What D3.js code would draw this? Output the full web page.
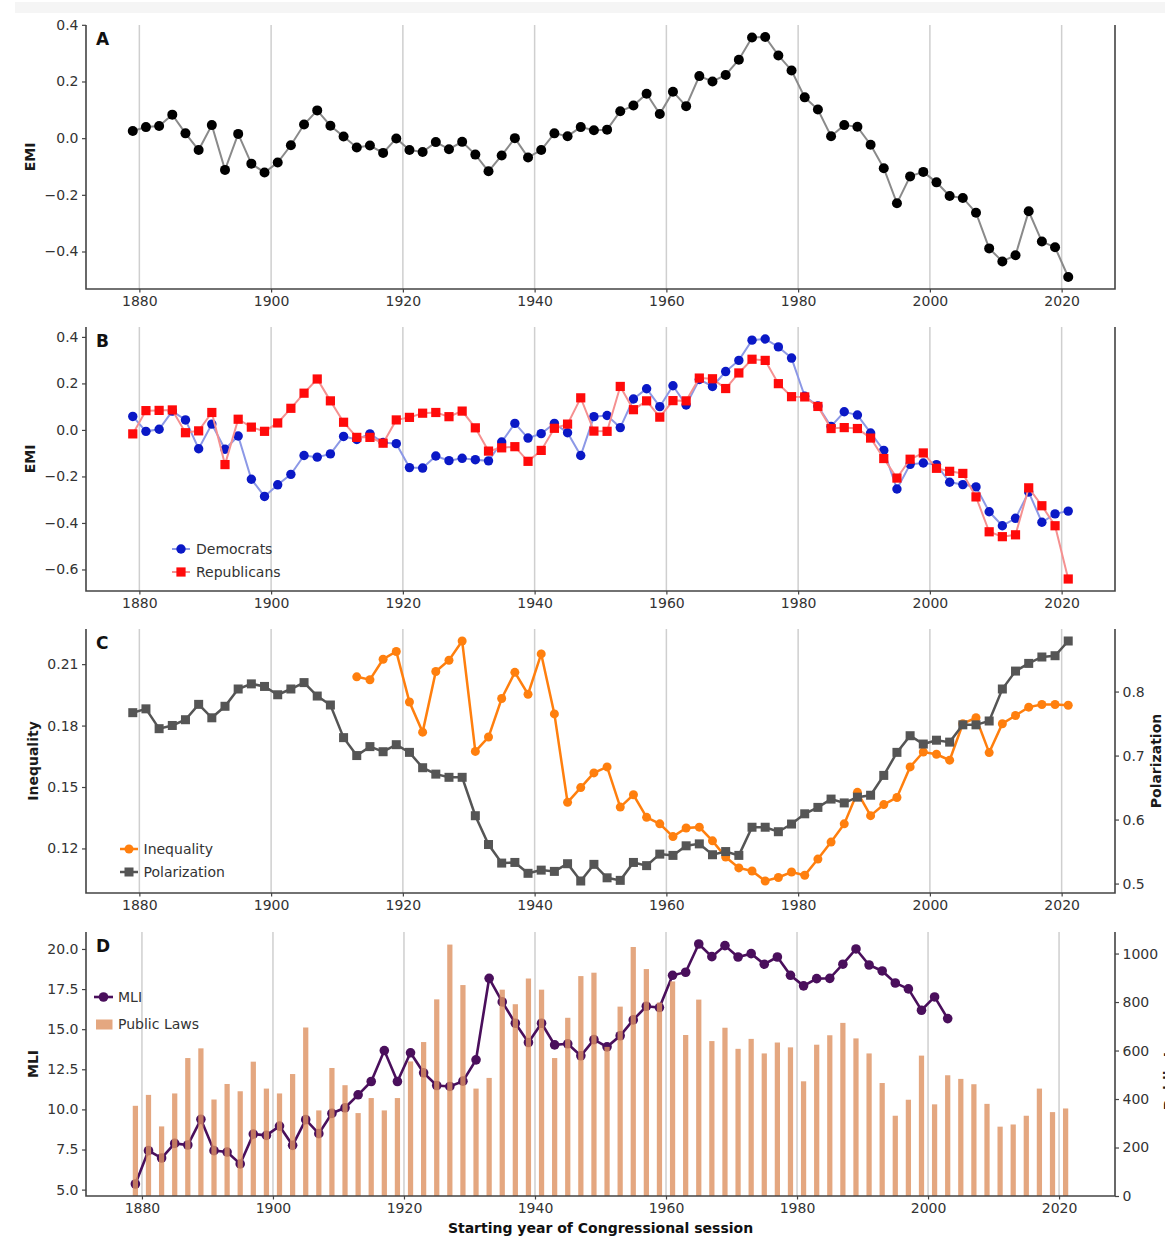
<!DOCTYPE html>
<html>
<head>
<meta charset="utf-8">
<script src="https://cdn.jsdelivr.net/npm/d3@7"></script>
<style>
  html, body { margin: 0; padding: 0; background: #ffffff; }
  svg { display: block; font-family: "DejaVu Sans", sans-serif; }
</style>
</head>
<body>
<svg id="chart" width="1165" height="1236"></svg>
<script>
// ---- Congressional session starting years ----
const sessionYears = [1879, 1881, 1883, 1885, 1887, 1889, 1891, 1893, 1895, 1897, 1899, 1901,
  1903, 1905, 1907, 1909, 1911, 1913, 1915, 1917, 1919, 1921, 1923, 1925, 1927, 1929, 1931,
  1933, 1935, 1937, 1939, 1941, 1943, 1945, 1947, 1949, 1951, 1953, 1955, 1957, 1959, 1961,
  1963, 1965, 1967, 1969, 1971, 1973, 1975, 1977, 1979, 1981, 1983, 1985, 1987, 1989, 1991,
  1993, 1995, 1997, 1999, 2001, 2003, 2005, 2007, 2009, 2011, 2013, 2015, 2017, 2019, 2021];

// ---- Panel A: EMI, whole Congress ----
const emiAll = [0.025, 0.039, 0.043, 0.083, 0.017, -0.042, 0.046, -0.112, 0.015, -0.090, -0.121, -0.086,
  -0.025, 0.048, 0.098, 0.044, 0.006, -0.033, -0.026, -0.052, -0.001, -0.042, -0.049, -0.014, -0.039, -0.013, -0.058,
  -0.117, -0.061, 0.000, -0.068, -0.042, 0.017, 0.007, 0.039, 0.028, 0.030, 0.095, 0.115, 0.157, 0.085, 0.164,
  0.113, 0.219, 0.200, 0.223, 0.277, 0.355, 0.357, 0.292, 0.239, 0.144, 0.101, 0.007, 0.046, 0.040, -0.023,
  -0.106, -0.230, -0.135, -0.119, -0.156, -0.204, -0.211, -0.263, -0.389, -0.435, -0.413, -0.258, -0.365, -0.385, -0.490];

// ---- Panel B: EMI by party ----
const emiDem = [0.058, -0.006, 0.003, 0.081, 0.043, -0.081, 0.025, -0.083, -0.026, -0.212, -0.286, -0.236,
  -0.191, -0.110, -0.117, -0.103, -0.028, -0.041, -0.017, -0.054, -0.059, -0.162, -0.164, -0.112, -0.132, -0.122, -0.128,
  -0.133, -0.052, 0.028, -0.035, -0.016, 0.028, -0.012, -0.110, 0.057, 0.062, 0.010, 0.133, 0.177, 0.100, 0.190,
  0.107, 0.217, 0.187, 0.251, 0.299, 0.386, 0.391, 0.357, 0.309, 0.145, 0.103, 0.015, 0.078, 0.064, -0.013,
  -0.088, -0.254, -0.148, -0.142, -0.149, -0.225, -0.235, -0.245, -0.352, -0.412, -0.380, -0.267, -0.397, -0.361, -0.349];
const emiRep = [-0.017, 0.083, 0.084, 0.086, -0.012, -0.004, 0.075, -0.149, 0.046, 0.012, -0.006, 0.030,
  0.093, 0.158, 0.219, 0.125, 0.033, -0.032, -0.032, -0.057, 0.043, 0.054, 0.072, 0.075, 0.057, 0.081, 0.009,
  -0.091, -0.077, -0.072, -0.135, -0.088, 0.007, 0.025, 0.138, -0.005, -0.006, 0.187, 0.087, 0.125, 0.055, 0.126,
  0.125, 0.223, 0.220, 0.178, 0.245, 0.304, 0.299, 0.199, 0.143, 0.142, 0.101, 0.006, 0.010, 0.006, -0.035,
  -0.123, -0.207, -0.126, -0.099, -0.165, -0.178, -0.187, -0.288, -0.438, -0.459, -0.451, -0.249, -0.326, -0.412, -0.641];

// ---- Panel C: income inequality (from 1913) and polarization ----
const inequalityYears = sessionYears.slice(17);
const inequality = [0.2038, 0.2024, 0.2124, 0.2162, 0.1915, 0.1768, 0.2064, 0.2119, 0.2213, 0.1674, 0.1744,
  0.1932, 0.2060, 0.1953, 0.2150, 0.1857, 0.1425, 0.1497, 0.1569, 0.1598, 0.1402, 0.1462, 0.1352, 0.1320,
  0.1258, 0.1300, 0.1304, 0.1237, 0.1158, 0.1105, 0.1090, 0.1041, 0.1058, 0.1085, 0.1069, 0.1148, 0.1231,
  0.1320, 0.1474, 0.1360, 0.1414, 0.1449, 0.1598, 0.1671, 0.1660, 0.1631, 0.1809, 0.1838, 0.1668, 0.1809,
  0.1849, 0.1890, 0.1903, 0.1903, 0.1899];
const polarization = [0.767, 0.773, 0.742, 0.747, 0.756, 0.780, 0.759, 0.777, 0.804, 0.812, 0.808, 0.795,
  0.804, 0.814, 0.793, 0.779, 0.728, 0.700, 0.714, 0.706, 0.717, 0.705, 0.681, 0.671, 0.666, 0.666, 0.606,
  0.561, 0.532, 0.533, 0.516, 0.521, 0.519, 0.531, 0.504, 0.530, 0.509, 0.505, 0.533, 0.528, 0.546, 0.544,
  0.559, 0.562, 0.545, 0.550, 0.544, 0.588, 0.588, 0.581, 0.593, 0.609, 0.619, 0.632, 0.626, 0.635, 0.638,
  0.669, 0.705, 0.731, 0.718, 0.724, 0.721, 0.748, 0.748, 0.754, 0.804, 0.832, 0.844, 0.854, 0.856, 0.879];

// ---- Panel D: MLI (through 2003) and number of public laws ----
const mliYears = sessionYears.slice(0, 63);
const mli = [5.35, 7.43, 6.97, 7.88, 7.78, 9.38, 7.43, 7.34, 6.60, 8.46, 8.38, 8.96,
  7.76, 9.36, 8.49, 9.75, 10.10, 10.91, 11.74, 13.67, 11.74, 13.53, 12.28, 11.49, 11.43, 11.76, 13.09,
  18.17, 16.70, 15.37, 14.17, 15.37, 14.02, 14.09, 13.34, 14.35, 13.90, 14.59, 15.58, 16.43, 16.35, 18.36,
  18.55, 20.31, 19.52, 20.21, 19.50, 19.71, 19.05, 19.50, 18.36, 17.70, 18.15, 18.17, 19.05, 20.00, 19.00,
  18.63, 17.88, 17.51, 16.18, 17.01, 15.66];
const publicLaws = [372, 417, 287, 423, 569, 609, 398, 462, 432, 554, 443, 423,
  503, 695, 353, 528, 457, 342, 404, 353, 404, 555, 635, 811, 1037, 870, 443,
  487, 851, 791, 897, 851, 569, 735, 907, 921, 615, 781, 1027, 936, 798, 885,
  664, 810, 639, 694, 607, 648, 588, 633, 613, 473, 624, 663, 714, 650, 588,
  466, 331, 397, 579, 378, 498, 483, 461, 380, 286, 295, 331, 443, 346, 361];

// ---- Tick values ----
const xTicks = [1880, 1900, 1920, 1940, 1960, 1980, 2000, 2020];
const emiTicksA = [-0.4, -0.2, 0.0, 0.2, 0.4];
const emiTicksB = [-0.6, -0.4, -0.2, 0.0, 0.2, 0.4];
const inequalityTicks = [0.12, 0.15, 0.18, 0.21];
const polarizationTicks = [0.5, 0.6, 0.7, 0.8];
const mliTicks = [5.0, 7.5, 10.0, 12.5, 15.0, 17.5, 20.0];
const lawTicks = [0, 200, 400, 600, 800, 1000];

// ---- Layout ----
const W = 1165, H = 1236;
const L = 86, R = 1115, PH = 264;
const tops = { A: 25, B: 327, C: 629, D: 932 };
const FONT = "'DejaVu Sans', sans-serif";
const TICK_COLOR = "#333333";
const SPINE = "#444444";

const svg = d3.select("#chart");
svg.append("rect").attr("x", 15).attr("y", 2).attr("width", W - 15).attr("height", 11).attr("fill", "#f5f5f5");

// 5% padding on both ends, like matplotlib autoscaling
function pad(ext, f = 0.05) {
  const r = ext[1] - ext[0];
  return [ext[0] - r * f, ext[1] + r * f];
}

const barWidth = 0.8;
const xLine = d3.scaleLinear().domain(pad(d3.extent(sessionYears))).range([L, R]);
const xBars = d3.scaleLinear()
  .domain(pad([d3.min(sessionYears) - barWidth / 2, d3.max(sessionYears) + barWidth / 2]))
  .range([L, R]);

const yA = d3.scaleLinear().domain(pad(d3.extent(emiAll))).range([tops.A + PH, tops.A]);
const yB = d3.scaleLinear().domain(pad(d3.extent(emiDem.concat(emiRep)))).range([tops.B + PH, tops.B]);
const yIneq = d3.scaleLinear().domain(pad(d3.extent(inequality))).range([tops.C + PH, tops.C]);
const yPol = d3.scaleLinear().domain(pad(d3.extent(polarization))).range([tops.C + PH, tops.C]);
const yMli = d3.scaleLinear().domain(pad(d3.extent(mli))).range([tops.D + PH, tops.D]);
const yLaws = d3.scaleLinear().domain([0, d3.max(publicLaws) * 1.05]).range([tops.D + PH, tops.D]);

const fmt1 = d3.format(".1f");
const fmt2 = d3.format(".2f");

function styleAxis(sel) {
  sel.attr("font-size", 14).attr("font-family", FONT);
  sel.select(".domain").remove();
  sel.selectAll(".tick line").attr("stroke", SPINE).attr("stroke-width", 1.2);
  sel.selectAll(".tick text").attr("fill", TICK_COLOR);
}

// Grid, axes and spines for one panel; returns a layer for the data marks
function panel(top, x, y, yTicks, yFmt, letter, rightSpineColor) {
  const g = svg.append("g");
  g.append("g").selectAll("line").data(xTicks).join("line")
    .attr("x1", d => x(d)).attr("x2", d => x(d))
    .attr("y1", top).attr("y2", top + PH)
    .attr("stroke", "#cfcfcf").attr("stroke-width", 1.5);
  const data = g.append("g");
  const axes = g.append("g");
  axes.append("g").attr("transform", `translate(0,${top + PH})`)
    .call(d3.axisBottom(x).tickValues(xTicks).tickFormat(d3.format("d")).tickSize(3.5).tickPadding(3.5))
    .call(styleAxis);
  axes.append("g").attr("transform", `translate(${L},0)`)
    .call(d3.axisLeft(y).tickValues(yTicks).tickFormat(yFmt).tickSize(4).tickPadding(3.5))
    .call(styleAxis);
  axes.append("path")
    .attr("d", `M${L},${top}V${top + PH}H${R}V${top}`)
    .attr("fill", "none").attr("stroke", SPINE).attr("stroke-width", 1.6);
  axes.append("text").attr("x", 96).attr("y", top + 20)
    .attr("font-size", 17).attr("font-weight", "bold").attr("font-family", FONT)
    .attr("fill", "#111").text(letter);
  return { data, axes };
}

function yLabel(text, x, cy) {
  svg.append("text")
    .attr("transform", `translate(${x},${cy}) rotate(-90)`)
    .attr("text-anchor", "middle")
    .attr("font-size", 14).attr("font-weight", "bold").attr("font-family", FONT)
    .attr("fill", "#1a1a1a").text(text);
}

function legendText(g, x, y, text) {
  g.append("text").attr("x", x).attr("y", y).attr("dy", "0.35em")
    .attr("font-size", 14).attr("font-family", FONT).attr("fill", "#333").text(text);
}

// ================= Panel A =================
{
  const p = panel(tops.A, xLine, yA, emiTicksA, fmt1, "A");
  const pts = sessionYears.map((yr, i) => ({ yr, v: emiAll[i] }));
  p.data.append("path")
    .attr("d", d3.line().x(d => xLine(d.yr)).y(d => yA(d.v))(pts))
    .attr("fill", "none").attr("stroke", "#8a8a8a").attr("stroke-width", 2);
  p.data.selectAll("circle").data(pts).join("circle")
    .attr("cx", d => xLine(d.yr)).attr("cy", d => yA(d.v)).attr("r", 5)
    .attr("fill", "#000");
  yLabel("EMI", 35, tops.A + PH / 2);
}

// ================= Panel B =================
const DEM_FILL = "#0a18c6", DEM_LINE = "#8c98e6";
const REP_FILL = "#ff0a0a", REP_LINE = "#f59090";
{
  const p = panel(tops.B, xLine, yB, emiTicksB, fmt1, "B");
  const dem = sessionYears.map((yr, i) => ({ yr, v: emiDem[i] }));
  const rep = sessionYears.map((yr, i) => ({ yr, v: emiRep[i] }));
  const line = d3.line().x(d => xLine(d.yr)).y(d => yB(d.v));
  p.data.append("path").attr("d", line(dem))
    .attr("fill", "none").attr("stroke", DEM_LINE).attr("stroke-width", 2);
  p.data.append("g").selectAll("circle").data(dem).join("circle")
    .attr("cx", d => xLine(d.yr)).attr("cy", d => yB(d.v)).attr("r", 4.7).attr("fill", DEM_FILL);
  p.data.append("path").attr("d", line(rep))
    .attr("fill", "none").attr("stroke", REP_LINE).attr("stroke-width", 2);
  const s = 9.2;
  p.data.append("g").selectAll("rect").data(rep).join("rect")
    .attr("x", d => xLine(d.yr) - s / 2).attr("y", d => yB(d.v) - s / 2)
    .attr("width", s).attr("height", s).attr("fill", REP_FILL);

  const lg = p.axes.append("g");
  lg.append("line").attr("x1", 172).attr("x2", 190).attr("y1", 549).attr("y2", 549)
    .attr("stroke", DEM_LINE).attr("stroke-width", 2);
  lg.append("circle").attr("cx", 181).attr("cy", 549).attr("r", 4.7).attr("fill", DEM_FILL);
  legendText(lg, 196, 549, "Democrats");
  lg.append("line").attr("x1", 172).attr("x2", 190).attr("y1", 572).attr("y2", 572)
    .attr("stroke", REP_LINE).attr("stroke-width", 2);
  lg.append("rect").attr("x", 181 - s / 2).attr("y", 572 - s / 2).attr("width", s).attr("height", s).attr("fill", REP_FILL);
  legendText(lg, 196, 572, "Republicans");
  yLabel("EMI", 35, tops.B + PH / 2);
}

// ================= Panel C =================
const INEQ = "#ff7f0e", POL = "#555555";
{
  const p = panel(tops.C, xLine, yIneq, inequalityTicks, fmt2, "C");
  const ineq = inequalityYears.map((yr, i) => ({ yr, v: inequality[i] }));
  const pol = sessionYears.map((yr, i) => ({ yr, v: polarization[i] }));
  p.data.append("path")
    .attr("d", d3.line().x(d => xLine(d.yr)).y(d => yIneq(d.v))(ineq))
    .attr("fill", "none").attr("stroke", INEQ).attr("stroke-width", 2.5);
  p.data.append("g").selectAll("circle").data(ineq).join("circle")
    .attr("cx", d => xLine(d.yr)).attr("cy", d => yIneq(d.v)).attr("r", 4.5).attr("fill", INEQ);
  p.data.append("path")
    .attr("d", d3.line().x(d => xLine(d.yr)).y(d => yPol(d.v))(pol))
    .attr("fill", "none").attr("stroke", POL).attr("stroke-width", 2.5);
  const s = 9;
  p.data.append("g").selectAll("rect").data(pol).join("rect")
    .attr("x", d => xLine(d.yr) - s / 2).attr("y", d => yPol(d.v) - s / 2)
    .attr("width", s).attr("height", s).attr("fill", POL);

  p.axes.append("g").attr("transform", `translate(${R},0)`)
    .call(d3.axisRight(yPol).tickValues(polarizationTicks).tickFormat(fmt1).tickSize(4).tickPadding(3.5))
    .call(styleAxis);

  const lg = p.axes.append("g");
  lg.append("line").attr("x1", 120).attr("x2", 138).attr("y1", 849).attr("y2", 849)
    .attr("stroke", INEQ).attr("stroke-width", 2.5);
  lg.append("circle").attr("cx", 129).attr("cy", 849).attr("r", 4.5).attr("fill", INEQ);
  legendText(lg, 143.5, 849, "Inequality");
  lg.append("line").attr("x1", 120).attr("x2", 138).attr("y1", 872).attr("y2", 872)
    .attr("stroke", POL).attr("stroke-width", 2.5);
  lg.append("rect").attr("x", 129 - s / 2).attr("y", 872 - s / 2).attr("width", s).attr("height", s).attr("fill", POL);
  legendText(lg, 143.5, 872, "Polarization");

  yLabel("Inequality", 38, tops.C + PH / 2);
  yLabel("Polarization", 1161, tops.C + PH / 2);
}

// ================= Panel D =================
const MLI_COLOR = "#4a0f5c", BAR_COLOR = "#dd9160";
{
  const p = panel(tops.D, xBars, yMli, mliTicks, fmt1, "D");
  const m = mliYears.map((yr, i) => ({ yr, v: mli[i] }));
  const laws = sessionYears.map((yr, i) => ({ yr, v: publicLaws[i] }));
  p.data.append("path")
    .attr("d", d3.line().x(d => xBars(d.yr)).y(d => yMli(d.v))(m))
    .attr("fill", "none").attr("stroke", MLI_COLOR).attr("stroke-width", 2.6);
  p.data.append("g").selectAll("circle").data(m).join("circle")
    .attr("cx", d => xBars(d.yr)).attr("cy", d => yMli(d.v)).attr("r", 4.8).attr("fill", MLI_COLOR);
  const bw = xBars(barWidth) - xBars(0);
  p.data.append("g").selectAll("rect").data(laws).join("rect")
    .attr("x", d => xBars(d.yr - barWidth / 2)).attr("width", bw)
    .attr("y", d => yLaws(d.v)).attr("height", d => yLaws(0) - yLaws(d.v))
    .attr("fill", BAR_COLOR).attr("fill-opacity", 0.8);

  p.axes.append("g").attr("transform", `translate(${R},0)`)
    .call(d3.axisRight(yLaws).tickValues(lawTicks).tickFormat(d3.format("d")).tickSize(4).tickPadding(3.5))
    .call(styleAxis);

  const lg = p.axes.append("g");
  lg.append("line").attr("x1", 94).attr("x2", 113).attr("y1", 997).attr("y2", 997)
    .attr("stroke", MLI_COLOR).attr("stroke-width", 2.6);
  lg.append("circle").attr("cx", 103.5).attr("cy", 997).attr("r", 4.8).attr("fill", MLI_COLOR);
  legendText(lg, 118, 997, "MLI");
  lg.append("rect").attr("x", 96).attr("y", 1019.5).attr("width", 16.5).attr("height", 10)
    .attr("fill", BAR_COLOR).attr("fill-opacity", 0.8);
  legendText(lg, 118, 1024.5, "Public Laws");

  yLabel("MLI", 38, tops.D + PH / 2);
  yLabel("Public Laws", 1174, tops.D + PH / 2);

  svg.append("text").attr("x", (L + R) / 2).attr("y", 1233)
    .attr("text-anchor", "middle").attr("font-size", 14).attr("font-weight", "bold")
    .attr("font-family", FONT).attr("fill", "#111")
    .text("Starting year of Congressional session");
}
</script>
</body>
</html>
